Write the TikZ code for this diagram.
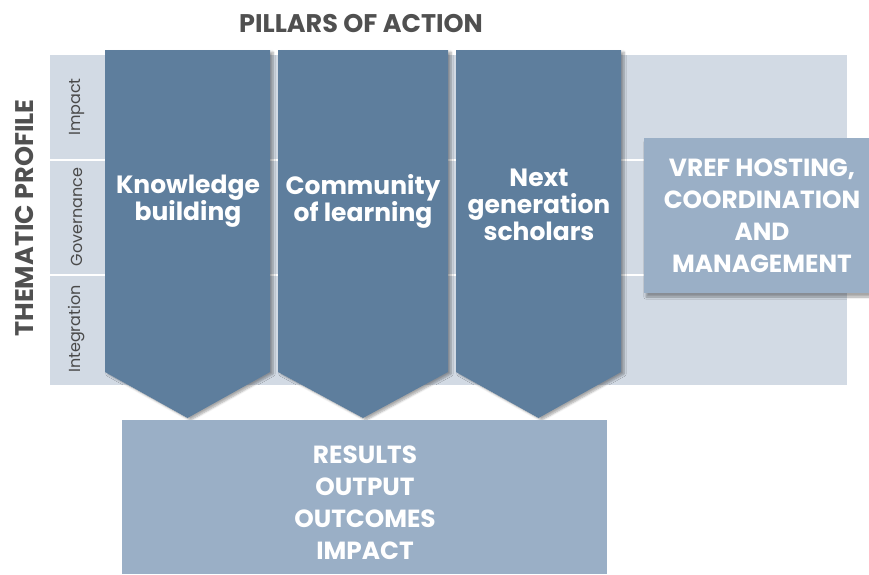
\documentclass[tikz,border=0pt]{standalone}
\usepackage{fontspec}
\setmainfont{Poppins}
\usetikzlibrary{shadows.blur}
\definecolor{pillarc}{HTML}{5E7E9D}
\definecolor{panelc}{HTML}{D2DAE4}
\definecolor{boxc}{HTML}{9AAFC6}
\definecolor{titlec}{HTML}{505050}
\definecolor{labelc}{HTML}{4A4A4A}
\tikzset{
  pillar/.style={fill=pillarc, blur shadow={shadow xshift=3pt, shadow yshift=-2pt, shadow blur steps=6, shadow opacity=35}},
  pillartext/.style={text=white, font=\bfseries\fontsize{25}{27}\selectfont, align=center},
  boxtext/.style={text=white, font=\bfseries\fontsize{24.8}{32}\selectfont, align=center},
  sidelabel/.style={text=labelc, font=\fontsize{16}{18}\selectfont, rotate=90},
  bigtitle/.style={text=titlec, font=\bfseries\fontsize{25.5}{28}\selectfont},
  divider/.style={draw=white, line width=2pt},
}
\begin{document}
\begin{tikzpicture}[x=1pt,y=-1pt]
\useasboundingbox (0,0) rectangle (869,574);
% background panel
\fill[panelc] (50,55) rectangle (847,385);
\draw[divider] (50,160) -- (847,160);
\draw[divider] (50,275) -- (847,275);
% titles
\node[bigtitle] (ttl) at (361,24) {PILLARS OF ACTION};
\node[bigtitle, rotate=90] (tp) at (25,218) {THEMATIC PROFILE};
\node[sidelabel] (limp) at (77,107) {Impact};
\node[sidelabel] (lgov) at (77,217) {Governance};
\node[sidelabel] (lint) at (77,329) {Integration};
% pillars
\path[pillar] (105,50) -- (270,50) -- (270,372) -- (187.5,418) -- (105,372) -- cycle;
\path[pillar] (278,50) -- (448,50) -- (448,372) -- (363,418) -- (278,372) -- cycle;
\path[pillar] (456,50) -- (621,50) -- (621,372) -- (538.5,418) -- (456,372) -- cycle;
\node[pillartext] (p1) at (188,201) {Knowledge\\building};
\node[pillartext] (p2) at (363,201) {Community\\of learning};
\node[pillartext] (p3) at (539,205) {Next\\generation\\scholars};
% right box
\fill[boxc, blur shadow={shadow xshift=2pt, shadow yshift=-4pt, shadow blur steps=6, shadow opacity=35}] (644,138) rectangle (869,293);
\node[boxtext] (vref) at (762,216) {VREF HOSTING,\\COORDINATION\\AND\\MANAGEMENT};
% bottom box
\fill[boxc] (122,420) rectangle (607,574);
\node[boxtext] (res) at (365,503) {RESULTS\\OUTPUT\\OUTCOMES\\IMPACT};
\end{tikzpicture}
\end{document}
